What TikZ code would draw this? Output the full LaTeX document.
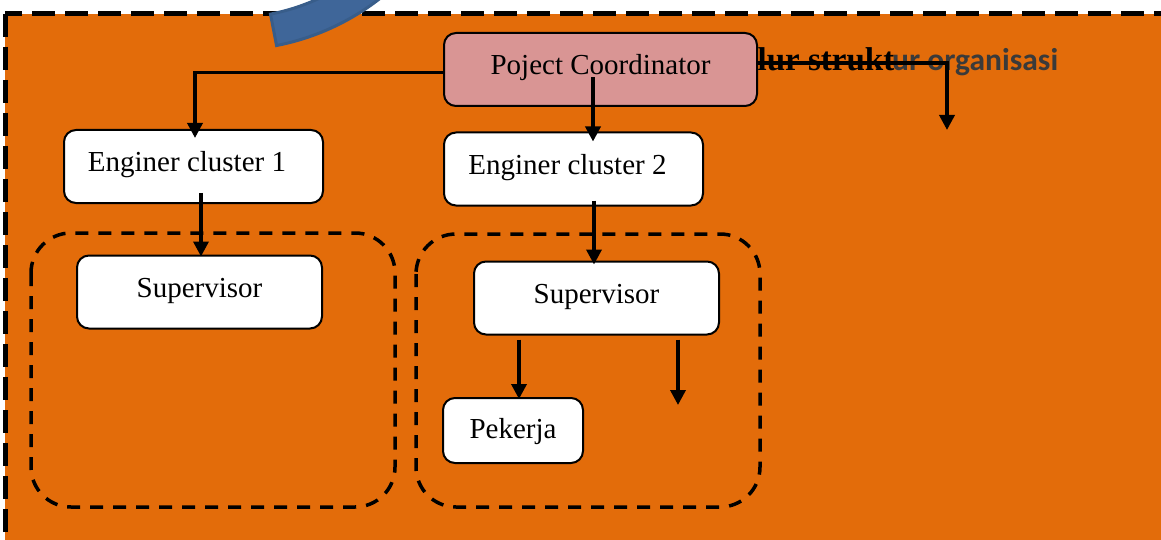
\documentclass[tikz,border=0pt]{standalone}
\usepackage{fontspec}
\setmainfont{Liberation Serif}
\newfontfamily\titlefont{Carlito}
\usetikzlibrary{arrows.meta}
\definecolor{bgorange}{HTML}{E36C0A}
\definecolor{coordpink}{HTML}{D99594}
\definecolor{bandblue}{HTML}{3F6699}
\definecolor{bandedge}{HTML}{385D8A}
\definecolor{titlegray}{HTML}{3A3A3A}
\tikzset{
	box/.style={draw,line width=2pt,fill=white,rounded corners=12pt,inner sep=0pt,text height=42pt,text depth=31pt,font=\fontsize{29}{32}\selectfont},
	frame/.style={draw,line width=3.5pt,dash pattern=on 13pt off 10pt,rounded corners=40pt},
	link/.style={->,line width=3.5pt}
}
\begin{document}
\begin{tikzpicture}[x=1pt,y=-1pt,>={Triangle[length=15pt,width=15pt]}]
	\useasboundingbox (0,0) rectangle (1161,540);
	\clip (0,0) rectangle (1161,540);
	\draw[fill=bgorange,line width=5pt,dash pattern=on 23pt off 10pt] (5,14) rectangle (1190,570);
	% curved band at the top
	\filldraw[fill=bandblue,draw=bandedge,line width=3pt] ([shift={(230,-194)}]79:212) -- ([shift={(230,-194)}]79:244) arc[start angle=79,end angle=40,radius=244] -- ([shift={(230,-194)}]40:212) arc[start angle=40,end angle=79,radius=212] -- cycle;
	% title
	\node[anchor=base west,font=\bfseries\fontsize{33}{36}\selectfont,inner sep=0pt] (titlea) at (741,71) {alur strukt};
	\node[anchor=base west,text=titlegray,font=\titlefont\bfseries\fontsize{31.5}{34}\selectfont,inner sep=0pt] (titleb) at (892,71) {ur organisasi};
	% groups
	\draw[frame] (31,233) rectangle (395,507);
	\draw[frame] (416,234) rectangle (760,507);
	% boxes
	\node[box,fill=coordpink,minimum width=313pt] (coord) at (600.5,69.5) {Poject Coordinator};
	\node[box,minimum width=259pt] (clusterA) at (193.5,166.5) {Enginer cluster 1\hspace*{13pt}};
	\node[box,minimum width=259pt] (clusterB) at (573.5,169) {Enginer cluster 2\hspace*{12pt}};
	\node[box,minimum width=245pt] (supA) at (199.5,292) {Supervisor};
	\node[box,minimum width=245pt] (supB) at (596.5,298) {Supervisor};
	\node[box,minimum width=140pt,text height=40pt,text depth=25pt] (worker) at (513,430.5) {Pekerja};
	\coordinate (drop) at (947,130);
	\coordinate (loose) at (678,405);
	% arrows
	\draw[link] ([yshift=-3pt]coord.west) -| ([xshift=1.5pt,yshift=-9pt]clusterA.north);
	\draw[link] ([xshift=-7.5pt,yshift=-8pt]coord.center) -- ([xshift=19.5pt,yshift=-10pt]clusterB.north);
	\draw[link] ([yshift=6.5pt]coord.east) -| (drop);
	\draw[link] ([xshift=7.5pt,yshift=11pt]clusterA.south) -- ([xshift=1.5pt,yshift=-2pt]supA.north);
	\draw[link] ([xshift=20.5pt,yshift=6pt]clusterB.south) -- ([xshift=-2.5pt,yshift=-4pt]supB.north);
	\draw[link] ([xshift=-77.5pt,yshift=-4pt]supB.south) -- ([xshift=6pt,yshift=-2pt]worker.north);
	\draw[link] ([xshift=81.5pt,yshift=-4pt]supB.south) -- (loose);
\end{tikzpicture}
\end{document}
